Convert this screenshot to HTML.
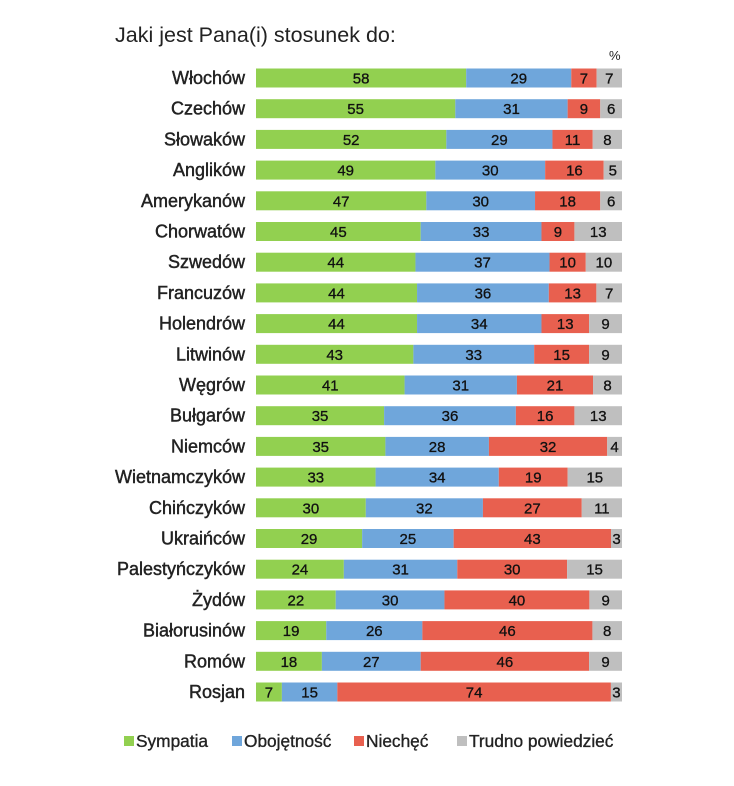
<!DOCTYPE html>
<html><head><meta charset="utf-8"><style>
body{margin:0;background:#fff;font-family:"Liberation Sans",sans-serif;}
#c{position:absolute;left:0;top:0;}
</style></head><body>
<svg id="c" width="734" height="786">
<text x="115" y="42" font-size="21.5" fill="#222">Jaki jest Pana(i) stosunek do:</text>
<text x="609" y="60" font-size="13" fill="#222">%</text>
<g id="bars"></g>
<g id="legend"></g>
</svg>
<script>
const categories=["Włochów","Czechów","Słowaków","Anglików","Amerykanów","Chorwatów","Szwedów","Francuzów","Holendrów","Litwinów","Węgrów","Bułgarów","Niemców","Wietnamczyków","Chińczyków","Ukraińców","Palestyńczyków","Żydów","Białorusinów","Romów","Rosjan"];
const sympatia=[58,55,52,49,47,45,44,44,44,43,41,35,35,33,30,29,24,22,19,18,7];
const obojetnosc=[29,31,29,30,30,33,37,36,34,33,31,36,28,34,32,25,31,30,26,27,15];
const niechec=[7,9,11,16,18,9,10,13,13,15,21,16,32,19,27,43,30,40,46,46,74];
const trudno=[7,6,8,5,6,13,10,7,9,9,8,13,4,15,11,3,15,9,8,9,3];
const seriesNames=["Sympatia","Obojętność","Niechęć","Trudno powiedzieć"];
const colors=["#92D050","#6FA6DB","#E8604F","#BFBFBF"];
const NS="http://www.w3.org/2000/svg";
const x0=256,x1=622,y0=78,step=30.7,bh=19;
const yPos=i=>y0+i*step;
const series=[sympatia,obojetnosc,niechec,trudno];
const g=document.getElementById('bars');
categories.forEach((cat,i)=>{
  const y=yPos(i);
  const t=document.createElementNS(NS,'text');
  t.setAttribute('x',245);t.setAttribute('y',y+6);t.setAttribute('text-anchor','end');
  t.setAttribute('font-size','18');t.setAttribute('fill','#222');
  t.setAttribute('stroke','#222');t.setAttribute('stroke-width','0.45');
  
  
  t.textContent=cat;g.appendChild(t);
  const tot=series.reduce((a,s)=>a+s[i],0);
  let acc=0;
  series.forEach((s,k)=>{
    const v=s[i];
    const xa=x0+(x1-x0)*acc/tot, w=(x1-x0)*v/tot;
    const r=document.createElementNS(NS,'rect');
    r.setAttribute('x',xa);r.setAttribute('y',y-bh/2);r.setAttribute('width',w);r.setAttribute('height',bh);
    r.setAttribute('fill',colors[k]);
    
    
    g.appendChild(r);
    const l=document.createElementNS(NS,'text');
    l.setAttribute('x',xa+w/2);l.setAttribute('y',y+5.5);l.setAttribute('text-anchor','middle');
    l.setAttribute('font-size','15');l.setAttribute('fill','#111');
    l.setAttribute('stroke','#111');l.setAttribute('stroke-width','0.3');
    
    
    l.textContent=v;g.appendChild(l);
    acc+=v;
  });
});
const lg=document.getElementById('legend');
const lx=[124,232,354,457];
seriesNames.forEach((n,k)=>{
  const r=document.createElementNS(NS,'rect');
  r.setAttribute('x',lx[k]);r.setAttribute('y',736);r.setAttribute('width',10);r.setAttribute('height',10);
  r.setAttribute('fill',colors[k]);
  
  
  lg.appendChild(r);
  const t=document.createElementNS(NS,'text');
  t.setAttribute('x',lx[k]+12);t.setAttribute('y',747);t.setAttribute('font-size','17.3');t.setAttribute('fill','#222');
  t.setAttribute('stroke','#222');t.setAttribute('stroke-width','0.35');
  
  
  t.textContent=n;lg.appendChild(t);
});
</script>
</body></html>
